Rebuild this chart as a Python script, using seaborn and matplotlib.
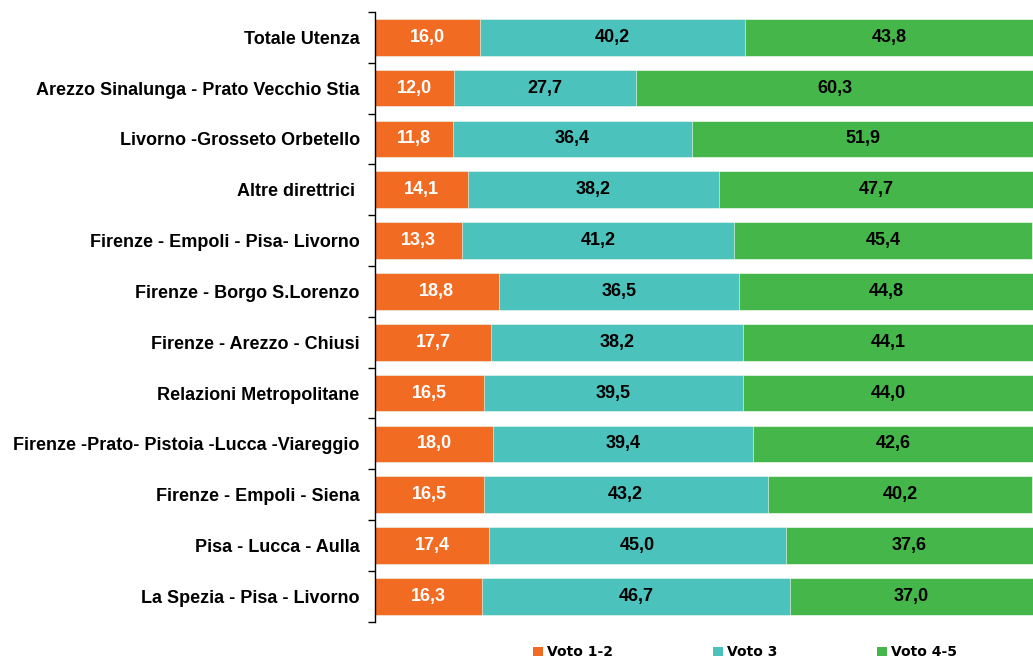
import numpy as np
import pandas as pd
import matplotlib
matplotlib.use("Agg")
import matplotlib.pyplot as plt
from matplotlib.patches import Patch
import seaborn as sns

categories = [
    "Totale Utenza",
    "Arezzo Sinalunga - Prato Vecchio Stia",
    "Livorno -Grosseto Orbetello",
    "Altre direttrici ",
    "Firenze - Empoli - Pisa- Livorno",
    "Firenze - Borgo S.Lorenzo",
    "Firenze - Arezzo - Chiusi",
    "Relazioni Metropolitane",
    "Firenze -Prato- Pistoia -Lucca -Viareggio",
    "Firenze - Empoli - Siena",
    "Pisa - Lucca - Aulla",
    "La Spezia - Pisa - Livorno",
]
voto_1_2 = [16.0, 12.0, 11.8, 14.1, 13.3, 18.8, 17.7, 16.5, 18.0, 16.5, 17.4, 16.3]
voto_3 = [40.2, 27.7, 36.4, 38.2, 41.2, 36.5, 38.2, 39.5, 39.4, 43.2, 45.0, 46.7]
voto_4_5 = [43.8, 60.3, 51.9, 47.7, 45.4, 44.8, 44.1, 44.0, 42.6, 40.2, 37.6, 37.0]
series_names = ["Voto 1-2", "Voto 3", "Voto 4-5"]
colors = ["#F26B22", "#4BC2BC", "#45B649"]
text_colors = ["white", "black", "black"]

df = pd.DataFrame({"cat": categories, "a": voto_1_2, "b": voto_3, "c": voto_4_5})
df["ab"] = df["a"] + df["b"]
df["abc"] = df["ab"] + df["c"]

fig = plt.figure(figsize=(10.33, 6.58), dpi=100)
ax = fig.add_axes([0.363, 0.055, 0.637, 0.927])

# stacked bars: draw cumulative totals from back to front
for col, color in zip(["abc", "ab", "a"], colors[::-1]):
    sns.barplot(data=df, x=col, y="cat", orient="h", color=color, width=0.72,
                edgecolor="white", linewidth=0.4, saturation=1, ax=ax)

# value labels in the middle of each segment
starts = [np.zeros(len(df)), df["a"].values, df["ab"].values]
for vals, start, tc in zip([voto_1_2, voto_3, voto_4_5], starts, text_colors):
    for i, (v, s) in enumerate(zip(vals, start)):
        ax.text(s + v / 2, i, f"{v:.1f}".replace(".", ","), ha="center", va="center",
                color=tc, fontsize=13, fontweight="bold", family="Liberation Sans")

ax.set_xlim(0, 100)
ax.set_ylim(len(categories) - 0.5, -0.5)
ax.set_xlabel("")
ax.set_ylabel("")
ax.set_xticks([])
for side in ["top", "right", "bottom"]:
    ax.spines[side].set_visible(False)
ax.spines["left"].set_color("black")
ax.spines["left"].set_linewidth(1)

ax.set_yticks(range(len(categories)))
ax.set_yticklabels(categories, fontsize=13, fontweight="bold", family="Liberation Sans")
ax.tick_params(axis="y", which="major", length=0, pad=11)
ax.set_yticks(np.arange(-0.5, len(categories), 1), minor=True)
ax.tick_params(axis="y", which="minor", length=5, width=1, color="black")

handles = [Patch(facecolor=c, edgecolor="none") for c in colors]
fig.legend(handles, series_names, loc="lower left", bbox_to_anchor=(0.504, -0.021),
           ncol=3, frameon=False, handlelength=0.7, handleheight=0.7,
           handletextpad=0.3, columnspacing=7.2,
           prop={"family": "DejaVu Sans", "weight": "bold", "size": 10})

fig.savefig("out.png", dpi=100)
